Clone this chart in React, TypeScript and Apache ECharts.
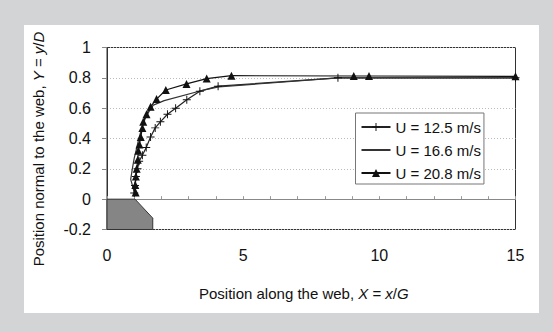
import React, { useEffect, useRef } from "react";
import * as echarts from "echarts";

const FONT = "'Liberation Sans', Arial, Helvetica, sans-serif";

const seriesNames = ["U = 12.5 m/s", "U = 16.6 m/s", "U = 20.8 m/s"];

// U = 12.5 m/s (plus markers)
const x125 = [1.0, 1.03, 1.06, 1.12, 1.18, 1.3, 1.44, 1.6, 1.77, 1.96, 2.22, 2.52, 2.93, 3.41, 4.08, 8.48, 15];
const y125 = [0.04, 0.09, 0.15, 0.2, 0.25, 0.29, 0.34, 0.41, 0.47, 0.51, 0.56, 0.6, 0.655, 0.712, 0.745, 0.8, 0.8];

// U = 16.6 m/s (plain line)
const x166 = [1.02, 0.95, 0.87, 0.93, 1.0, 1.08, 1.17, 1.28, 1.4, 1.55, 1.7, 2.1, 3.45, 4.1, 8.5, 15];
const y166 = [0.03, 0.08, 0.13, 0.2, 0.27, 0.33, 0.4, 0.47, 0.53, 0.58, 0.62, 0.65, 0.715, 0.74, 0.8, 0.8];

// U = 20.8 m/s (triangle markers)
const x208 = [1.05, 1.04, 1.06, 1.09, 1.13, 1.15, 1.19, 1.24, 1.3, 1.33, 1.45, 1.6, 1.82, 2.16, 2.92, 3.66, 4.57, 9.06, 9.62, 15];
const y208 = [0.044, 0.094, 0.15, 0.2, 0.26, 0.32, 0.36, 0.41, 0.47, 0.51, 0.56, 0.61, 0.66, 0.72, 0.76, 0.795, 0.814, 0.812, 0.812, 0.81];

// Web (gray block) outline
const webX = [0, 1.03, 1.68, 1.68, 0];
const webY = [0, 0, -0.125, -0.2, -0.2];

const X_MIN = 0, X_MAX = 15, X_MAJOR = 5, X_MINOR = 1;
const Y_MIN = -0.2, Y_MAX = 1, Y_STEP = 0.2;

const PLUS = "path://M4.4,0H5.6V4.4H10V5.6H5.6V10H4.4V5.6H0V4.4H4.4Z";

const pairs = (xs: number[], ys: number[]) => xs.map((x, i) => [x, ys[i]]);

export default function App() {
  const ref = useRef<HTMLDivElement>(null);
  useEffect(() => {
    document.body.style.margin = "0";
    if (!ref.current) return;
    const chart = echarts.init(ref.current, undefined, { renderer: "svg" });
    const option: any = {
      animation: false,
      backgroundColor: "transparent",
      textStyle: { fontFamily: FONT },
      grid: {
        left: 107,
        right: 37.5,
        top: 47.5,
        bottom: 102.5,
        show: true,
        borderColor: "#333",
        borderWidth: 1,
        backgroundColor: "transparent",
      },
      xAxis: [
        {
          type: "value",
          min: X_MIN,
          max: X_MAX,
          interval: X_MAJOR,
          position: "bottom",
          axisLine: { show: false, onZero: false },
          axisTick: { show: false },
          splitLine: { show: false },
          axisLabel: { fontSize: 16, color: "#111", margin: 18, fontFamily: FONT },
        },
        {
          type: "value",
          min: X_MIN,
          max: X_MAX,
          interval: X_MINOR,
          position: "bottom",
          axisLine: { show: true, onZero: true, lineStyle: { color: "#888", width: 1 } },
          axisTick: { show: true, inside: true, length: 3, lineStyle: { color: "#999" } },
          axisLabel: { show: false },
          splitLine: { show: false },
        },
      ],
      yAxis: {
        type: "value",
        min: Y_MIN,
        max: Y_MAX,
        interval: Y_STEP,
        axisLine: { show: true, onZero: false, lineStyle: { color: "#333" } },
        axisTick: { show: true, length: 5, lineStyle: { color: "#888" } },
        axisLabel: { fontSize: 16, color: "#111", margin: 16, fontFamily: FONT },
        splitLine: { show: true, lineStyle: { color: "#bbb", type: [1, 2], width: 1 } },
      },
      legend: {
        orient: "vertical",
        left: 355.5,
        top: 113,
        data: [
          { name: seriesNames[0] },
          { name: seriesNames[1], itemStyle: { opacity: 0 } },
          { name: seriesNames[2] },
        ],
        itemWidth: 29,
        itemHeight: 10,
        itemGap: 7,
        padding: [6, 3, 3, 5],
        borderColor: "#777",
        borderWidth: 1,
        backgroundColor: "#fff",
        textStyle: { fontSize: 15, color: "#111", fontFamily: FONT, lineHeight: 16 },
      },
      graphic: [
        {
          type: "text",
          x: 199,
          y: 293,
          style: {
            text: "Position along the web, {i|X} = {i|x}/{i|G}",
            fontSize: 15,
            fontFamily: FONT,
            fill: "#111",
            verticalAlign: "middle",
            rich: { i: { fontStyle: "italic", fontSize: 15, fontFamily: FONT, fill: "#111" } },
          },
        },
        {
          type: "text",
          x: 38,
          y: 149,
          rotation: Math.PI / 2,
          style: {
            text: "Position normal to the web, {i|Y} = {i|y}/{i|D}",
            fontSize: 15,
            fontFamily: FONT,
            fill: "#111",
            align: "center",
            verticalAlign: "middle",
            rich: { i: { fontStyle: "italic", fontSize: 15, fontFamily: FONT, fill: "#111" } },
          },
        },
      ],
      series: [
        {
          type: "custom",
          silent: true,
          z: 1,
          data: [[0, 0]],
          renderItem: (_params: any, api: any) => {
            const points = webX.map((x, i) => api.coord([x, webY[i]]));
            return {
              type: "polygon",
              shape: { points },
              style: { fill: "#858585", stroke: "#333", lineWidth: 1 },
            };
          },
        },
        {
          name: seriesNames[0],
          type: "line",
          data: pairs(x125, y125),
          symbol: PLUS,
          symbolSize: 8,
          lineStyle: { color: "#222", width: 1.2 },
          itemStyle: { color: "#111" },
          z: 3,
        },
        {
          name: seriesNames[1],
          type: "line",
          data: pairs(x166, y166),
          symbol: "none",
          lineStyle: { color: "#333", width: 1.2 },
          itemStyle: { color: "#333" },
          z: 3,
        },
        {
          name: seriesNames[2],
          type: "line",
          data: pairs(x208, y208),
          symbol: "triangle",
          symbolSize: 8,
          lineStyle: { color: "#111", width: 1.2 },
          itemStyle: { color: "#111" },
          z: 4,
        },
      ],
    };
    chart.setOption(option);
    return () => chart.dispose();
  }, []);

  return (
    <div style={{ position: "relative", width: 553, height: 332, background: "#d3d4d6", overflow: "hidden" }}>
      <div style={{ position: "absolute", left: 24, top: 25, width: 515, height: 288, background: "#fff" }} />
      <div ref={ref} style={{ position: "absolute", left: 0, top: 0, width: 553, height: 332 }} />
    </div>
  );
}
